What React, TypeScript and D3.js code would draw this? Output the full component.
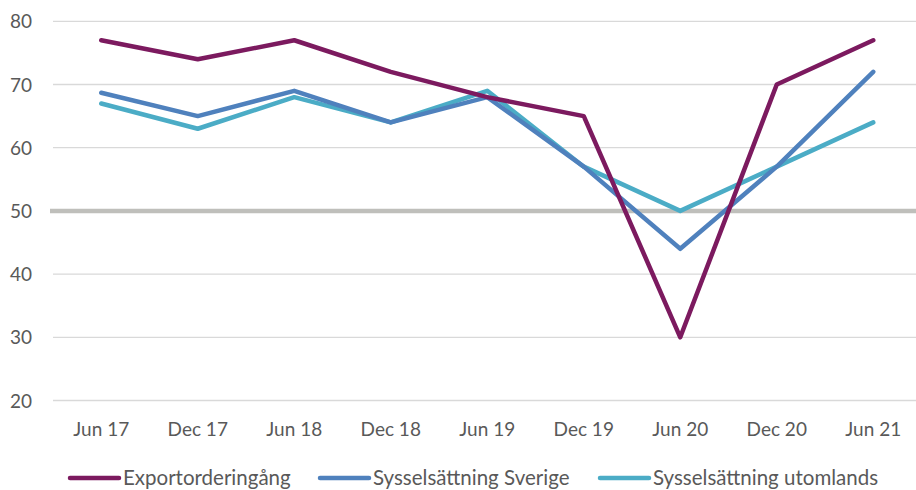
import React, { useEffect, useRef } from 'react';
import * as d3 from 'd3';

const periods = ['Jun 17', 'Dec 17', 'Jun 18', 'Dec 18', 'Jun 19', 'Dec 19', 'Jun 20', 'Dec 20', 'Jun 21'];
const exportOrders = [77, 74, 77, 72, 68, 65, 30, 70, 77];
const employmentSweden = [68.7, 65, 69, 64, 68, 57, 44, 57, 72];
const employmentAbroad = [67, 63, 68, 64, 69, 57, 50, 57, 64];
const yTicks = [20, 30, 40, 50, 60, 70, 80];

const seriesNames = ['Exportorderingång', 'Sysselsättning Sverige', 'Sysselsättning utomlands'];
const seriesColors = ['#7c1a5f', '#4f81bd', '#4bacc6'];

const App: React.FC = () => {
  const svgRef = useRef<SVGSVGElement | null>(null);

  useEffect(() => {
    if (!svgRef.current) return;
    const width = 916;
    const height = 490;
    const font = 'Lato, "Noto Sans", sans-serif';

    const svg = d3.select(svgRef.current);
    svg.selectAll('*').remove();

    const x = d3.scaleBand<string>().domain(periods).range([53, 921.5]);
    const xc = (p: string) => (x(p) as number) + x.bandwidth() / 2;
    const y = d3.scaleLinear().domain([20, 80]).range([400.5, 21.3]);

    // Gridlines
    svg
      .append('g')
      .selectAll('line')
      .data(yTicks.filter((t) => t !== 50))
      .enter()
      .append('line')
      .attr('x1', 53)
      .attr('x2', width)
      .attr('y1', (d) => y(d))
      .attr('y2', (d) => y(d))
      .attr('stroke', '#d9d9d9')
      .attr('stroke-width', 1.3);

    // y labels
    svg
      .append('g')
      .selectAll('text')
      .data(yTicks)
      .enter()
      .append('text')
      .attr('x', 32)
      .attr('y', (d) => y(d) + 7)
      .attr('text-anchor', 'end')
      .attr('fill', '#595959')
      .attr('font-family', font)
      .attr('font-size', '19px')
      .text((d) => d);

    // x labels
    svg
      .append('g')
      .selectAll('text')
      .data(periods)
      .enter()
      .append('text')
      .attr('x', (d) => xc(d))
      .attr('y', 436)
      .attr('text-anchor', 'middle')
      .attr('fill', '#595959')
      .attr('font-family', font)
      .attr('font-size', '19px')
      .text((d) => d);

    // 50 reference line
    svg
      .append('line')
      .attr('x1', 50)
      .attr('x2', width)
      .attr('y1', y(50))
      .attr('y2', y(50))
      .attr('stroke', '#bfbfbb')
      .attr('stroke-width', 4.5);

    const allSeries = [exportOrders, employmentSweden, employmentAbroad];
    const line = d3
      .line<number>()
      .x((_, i) => xc(periods[i]))
      .y((d) => y(d));

    [2, 1, 0].forEach((si) => {
      svg
        .append('path')
        .datum(allSeries[si])
        .attr('d', line)
        .attr('fill', 'none')
        .attr('stroke', seriesColors[si])
        .attr('stroke-width', 4.5)
        .attr('stroke-linejoin', 'round')
        .attr('stroke-linecap', 'round');
    });

    // Legend
    const legendX = [70, 320, 600];
    const legend = svg
      .append('g')
      .selectAll('g')
      .data(seriesNames)
      .enter()
      .append('g')
      .attr('transform', (_, i) => `translate(${legendX[i]},478)`);
    legend
      .append('line')
      .attr('x1', 0)
      .attr('x2', 49)
      .attr('stroke', (_, i) => seriesColors[i])
      .attr('stroke-width', 4.5)
      .attr('stroke-linecap', 'round');
    legend
      .append('text')
      .attr('x', 53)
      .attr('y', 7)
      .attr('fill', '#595959')
      .attr('font-family', font)
      .attr('font-size', '20.5px')
      .text((d) => d);
  }, []);

  return (
    <svg
      ref={svgRef}
      width={916}
      height={490}
      style={{ position: 'absolute', left: 0, top: 0, background: '#fff' }}
    />
  );
};

export default App;
